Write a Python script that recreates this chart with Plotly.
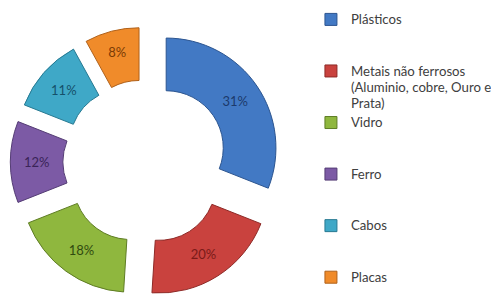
import plotly.graph_objects as go

categories = ["Plásticos", "Metais não ferrosos<br>(Aluminio, cobre, Ouro e<br>Prata)", "Vidro", "Ferro", "Cabos", "Placas"]
values = [31, 20, 18, 12, 11, 8]
slice_colors = ["#4279c4", "#c9423e", "#8fb73e", "#7c5aa5", "#3fa8c7", "#f08b2a"]
edge_colors = ["#2c5590", "#8e2a27", "#5f7d25", "#553d75", "#287a92", "#b0611a"]
text_colors = ["#1c3a6b", "#7a1a18", "#2f4a0f", "#3a2458", "#15506a", "#7a3b05"]

# pad legend labels to equal line count so entries are evenly spaced
legend_labels = []
for c in categories:
    n = c.count("<br>") + 1
    styled = "<br>".join('<span style="font-size:13.2px">%s</span>' % part for part in c.split("<br>"))
    legend_labels.append(styled + "<br> " * (3 - n))

W, H = 491, 289  # page body keeps an 8px margin

fig = go.Figure(go.Pie(
    labels=legend_labels,
    values=values,
    sort=False,
    direction="clockwise",
    rotation=0,
    hole=0.52,
    pull=[0.23] * len(values),
    marker=dict(colors=slice_colors, line=dict(color=edge_colors, width=1)),
    textinfo="percent",
    texttemplate="%{value}%",
    textposition="inside",
    insidetextorientation="horizontal",
    textfont=dict(family="Lato", size=13, color=text_colors),
    domain=dict(x=[0.0047, 0.5546], y=[0.0, 0.9343]),
    hoverinfo="label+percent",
))

fig.update_layout(
    width=W, height=H,
    margin=dict(l=0, r=0, t=0, b=0, autoexpand=False),
    paper_bgcolor="white",
    plot_bgcolor="white",
    showlegend=True,
    legend=dict(
        x=0.617, xanchor="left",
        y=1.011, yanchor="top",
        valign="top",
        maxheight=600,
        font=dict(family="Lato", size=12.45, color="#404040"),
        bgcolor="rgba(0,0,0,0)",
        traceorder="normal",
    ),
)

fig.write_html("out.html")
